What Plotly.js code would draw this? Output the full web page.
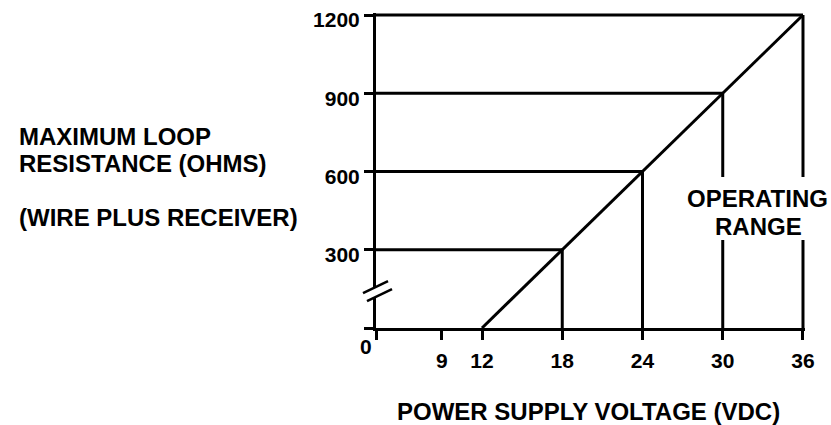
<!DOCTYPE html>
<html>
<head>
<meta charset="utf-8">
<script src="https://cdn.plot.ly/plotly-3.0.1.min.js"></script>
<style>html,body{margin:0;padding:0;background:#fff;}#chart{width:831px;height:425px;}</style>
</head>
<body>
<div id="chart"></div>
<script>
// Data
const supplyVolts = [12, 18, 24, 30, 36];          // power supply voltage (VDC)
const loopOhms    = [0, 300, 600, 900, 1200];      // max loop resistance (ohms)
const xTickVals   = [9, 12, 18, 24, 30, 36];
const xTickText   = ['9', '12', '18', '24', '30', '36'];
const yTickVals   = [300, 600, 900, 1200];
const yTickText   = ['300', '600', '900', '1200'];

// Broken x-axis: the "0" origin is drawn at this axis position
const xOrigin = 4.075;

// Reference lines: horizontal from the y-axis to the load line, vertical down to the x-axis
const gx = [], gy = [];
for (let i = 1; i < supplyVolts.length; i++) {
  gx.push(xOrigin, supplyVolts[i], null);
  gy.push(loopOhms[i], loopOhms[i], null);
  gx.push(supplyVolts[i], supplyVolts[i], null);
  gy.push(0, loopOhms[i], null);
}

const lineStyle = {color: '#000', width: 3};
const traces = [
  {x: gx, y: gy, mode: 'lines', line: lineStyle, hoverinfo: 'skip', showlegend: false},
  {x: supplyVolts, y: loopOhms, mode: 'lines', line: lineStyle, showlegend: false}
];

const bold = s => s ? '<b>' + s + '</b>' : '';
const fontFam = 'Liberation Sans, Arial, sans-serif';
const titleFont = {family: fontFam, size: 24, color: '#000', weight: 'bold'};
const tickFont  = {family: fontFam, size: 21, color: '#000', weight: 'bold'};

const layout = {
  width: 831, height: 425,
  margin: {l: 376, r: 26, t: 13, b: 97},
  paper_bgcolor: '#fff', plot_bgcolor: '#fff',
  showlegend: false,
  xaxis: {
    range: [xOrigin, 36.15],
    tickmode: 'array',
    tickvals: [xOrigin].concat(xTickVals),
    ticktext: [''].concat(xTickText).map(bold),
    ticks: 'outside', ticklen: 9, tickwidth: 3, tickcolor: '#000',
    ticklabelstandoff: 3,
    showline: true, linewidth: 3, linecolor: '#000',
    showgrid: false, zeroline: false,
    tickfont: tickFont, fixedrange: true
  },
  yaxis: {
    range: [0, 1207.7],
    tickmode: 'array',
    tickvals: [0].concat(yTickVals),
    ticktext: [''].concat(yTickText).map(bold),
    ticks: 'outside', ticklen: 9, tickwidth: 3, tickcolor: '#000',
    ticklabelshift: 5,
    ticklabeloverflow: 'allow',
    showline: true, linewidth: 3, linecolor: '#000',
    showgrid: false, zeroline: false,
    tickfont: tickFont, fixedrange: true
  },
  shapes: [
    // gap behind the "OPERATING RANGE" label
    {type: 'rect', xref: 'paper', yref: 'paper', x0: 0.788, x1: 1.016, y0: 0.279, y1: 0.479,
     fillcolor: '#fff', line: {width: 0}, layer: 'above'},
    // y-axis break
    {type: 'rect', xref: 'paper', yref: 'paper', x0: -0.012, x1: 0.012, y0: 0.098, y1: 0.130,
     fillcolor: '#fff', line: {width: 0}, layer: 'above'},
    {type: 'line', xref: 'paper', yref: 'paper', x0: -0.0303, y0: 0.1111, x1: 0.028, y1: 0.1492,
     line: {color: '#000', width: 2.5}, layer: 'above'},
    {type: 'line', xref: 'paper', yref: 'paper', x0: -0.021, y0: 0.0857, x1: 0.0373, y1: 0.1238,
     line: {color: '#000', width: 2.5}, layer: 'above'}
  ],
  annotations: [
    {text: '<b>0</b>', xref: 'paper', yref: 'paper', x: -0.023, y: -0.060, showarrow: false,
     xanchor: 'center', yanchor: 'middle', font: tickFont},
    {text: '<b>MAXIMUM LOOP</b>', xref: 'paper', yref: 'paper', x: -0.8368, y: 0.608, showarrow: false,
     xanchor: 'left', yanchor: 'middle', font: titleFont},
    {text: '<b>RESISTANCE (OHMS)</b>', xref: 'paper', yref: 'paper', x: -0.8368, y: 0.522, showarrow: false,
     xanchor: 'left', yanchor: 'middle', font: titleFont},
    {text: '<b>(WIRE PLUS RECEIVER)</b>', xref: 'paper', yref: 'paper', x: -0.8368, y: 0.351, showarrow: false,
     xanchor: 'left', yanchor: 'middle', font: titleFont},
    {text: '<b>POWER SUPPLY VOLTAGE (VDC)</b>', xref: 'paper', yref: 'paper', x: 0.4965, y: -0.2635, showarrow: false,
     xanchor: 'center', yanchor: 'middle', font: titleFont},
    {text: '<b>OPERATING</b>', xref: 'paper', yref: 'paper', x: 0.889, y: 0.411, showarrow: false,
     xanchor: 'center', yanchor: 'middle', font: titleFont},
    {text: '<b>RANGE</b>', xref: 'paper', yref: 'paper', x: 0.8915, y: 0.322, showarrow: false,
     xanchor: 'center', yanchor: 'middle', font: titleFont}
  ]
};

Plotly.newPlot('chart', traces, layout, {displayModeBar: false, staticPlot: true});
</script>
</body>
</html>
